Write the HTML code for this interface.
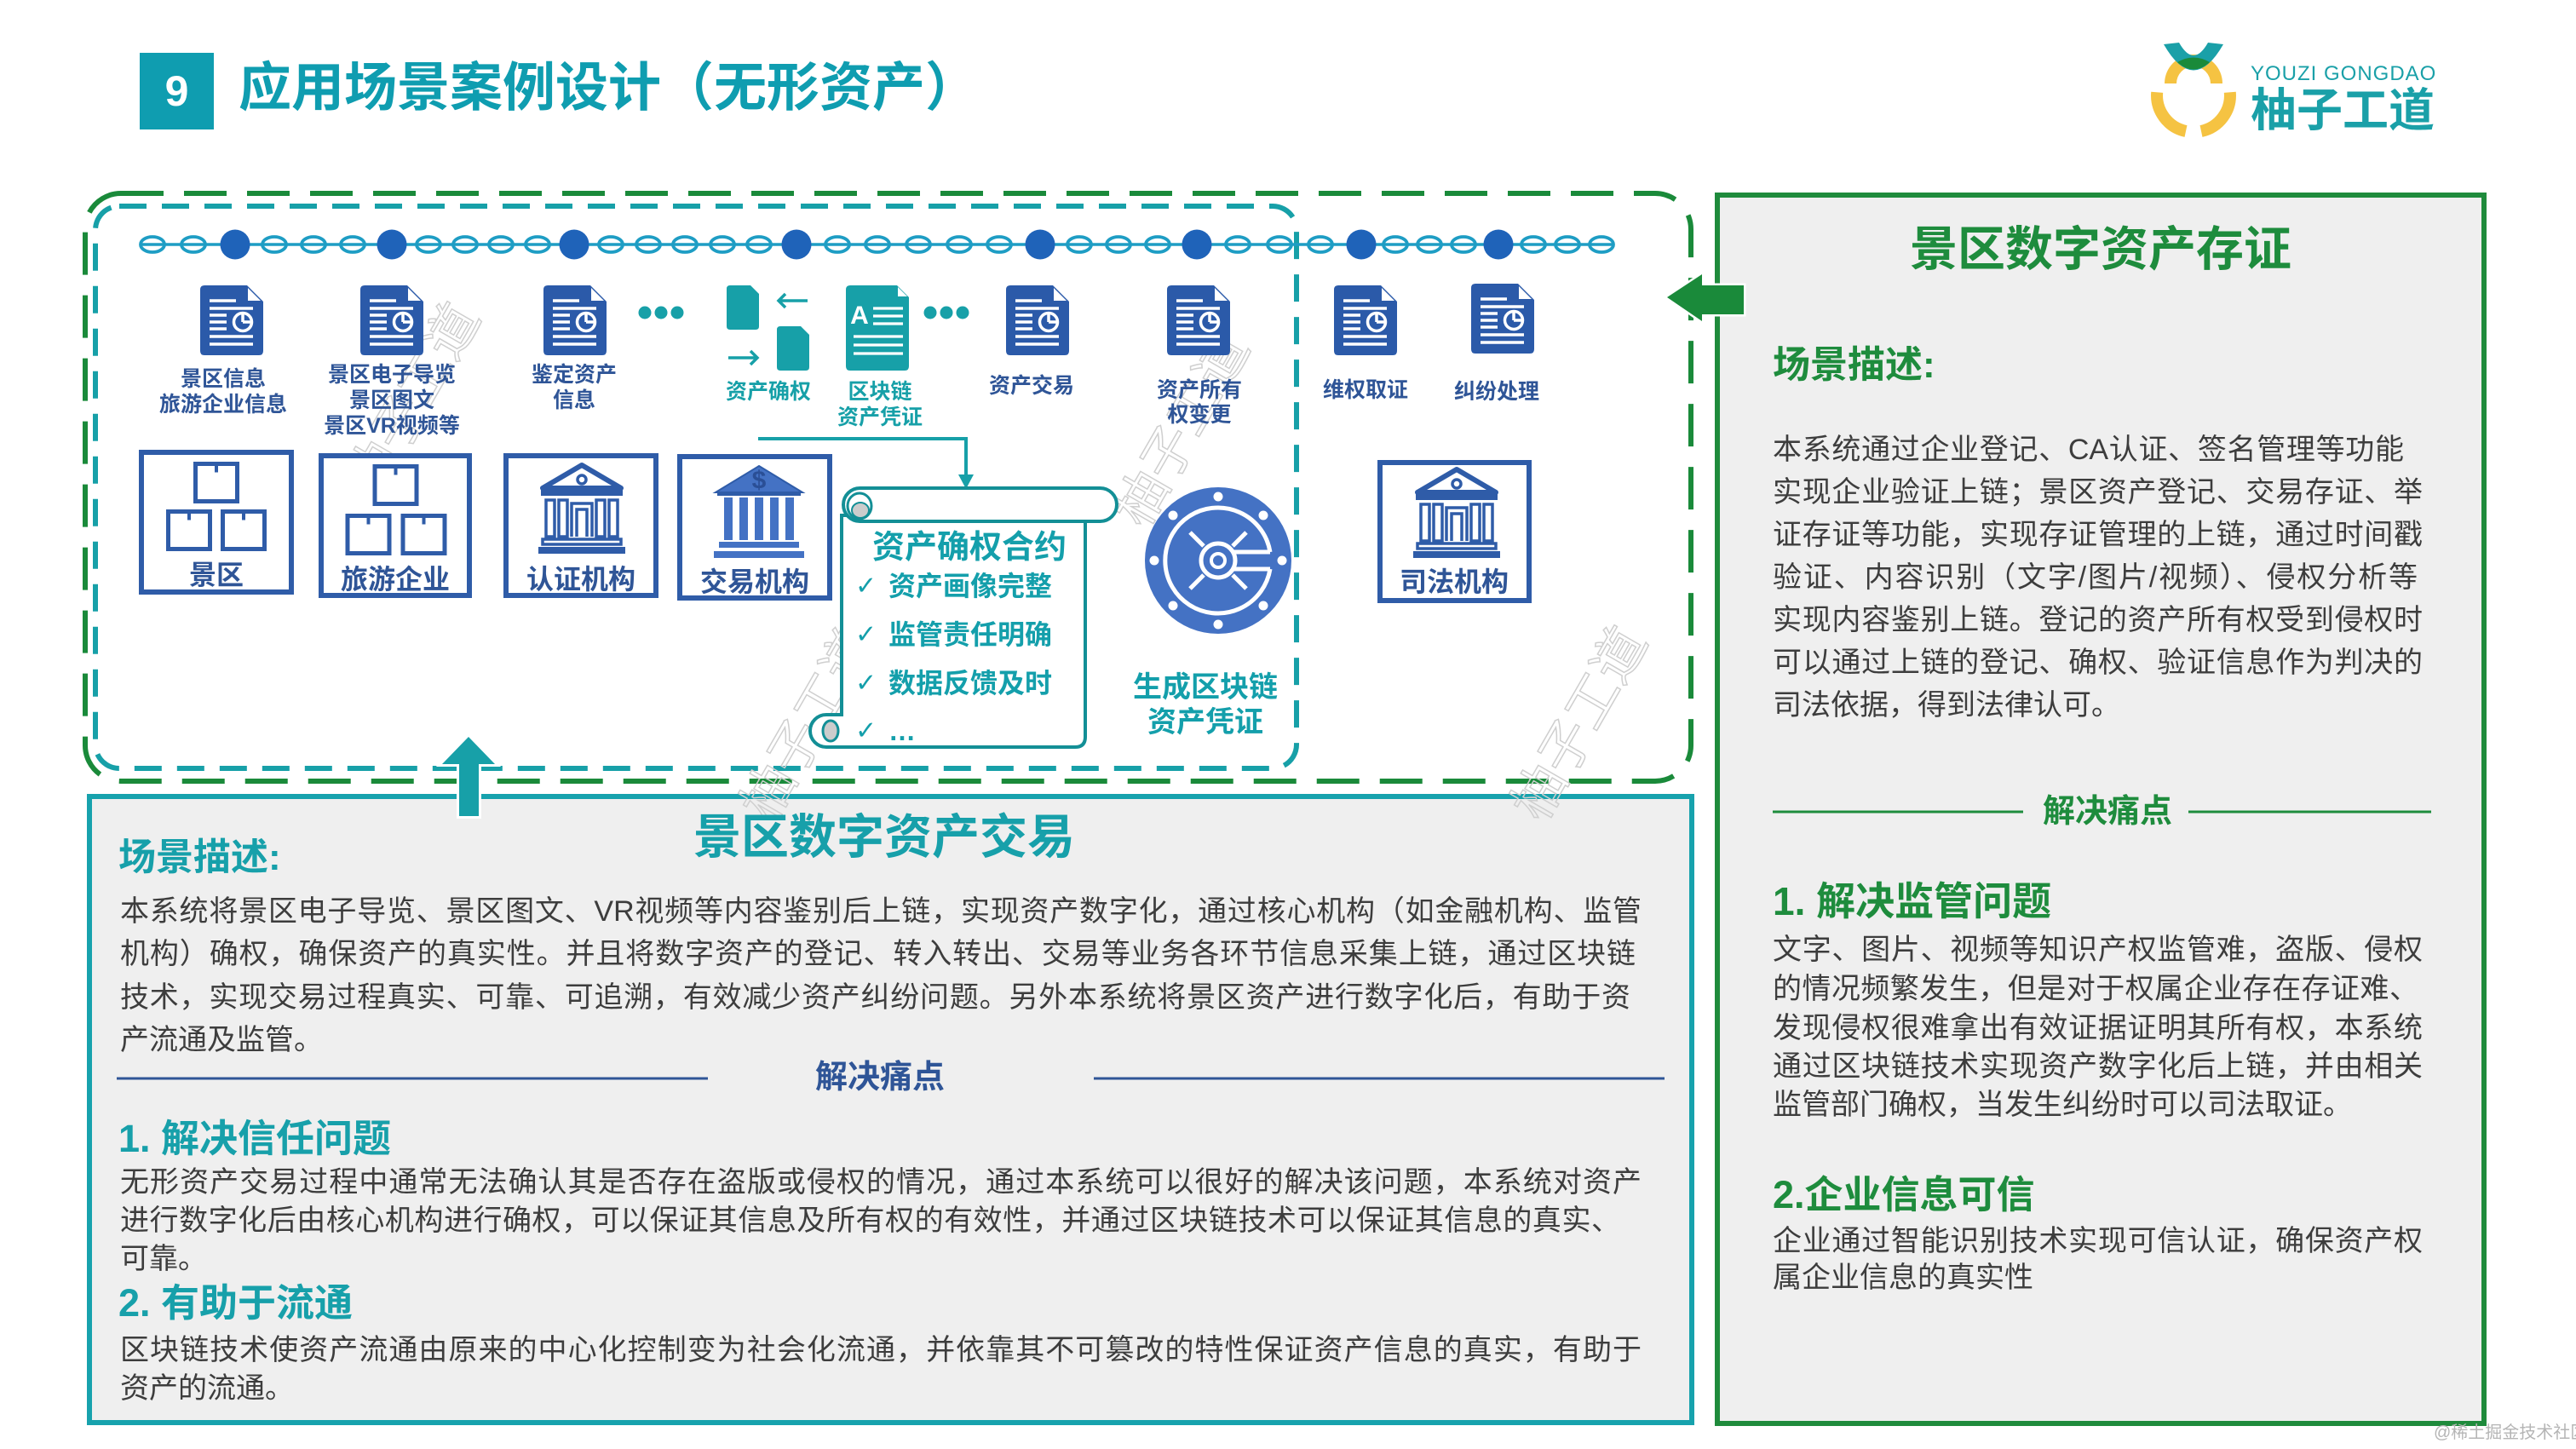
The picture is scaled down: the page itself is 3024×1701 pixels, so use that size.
<!DOCTYPE html>
<html><head><meta charset="utf-8">
<style>
html,body{margin:0;padding:0;background:#fff;}
#c{position:relative;width:3024px;height:1701px;overflow:hidden;background:#fff;font-family:"Liberation Sans","Noto Sans CJK SC",sans-serif;}
.a{position:absolute;white-space:nowrap;}
.p{position:absolute;white-space:nowrap;font-size:34px;height:44px;line-height:44px;color:#3d3d3d;}
.j{text-align:justify;text-align-last:justify;}
.hg{position:absolute;white-space:nowrap;font-weight:bold;color:#1e8c3d;}
.ht{position:absolute;white-space:nowrap;font-weight:bold;color:#17a0aa;}
</style></head><body><div id="c">
<svg class="a" style="left:0;top:0" width="3024" height="1701" viewBox="0 0 3024 1701" font-family="Liberation Sans, Noto Sans CJK SC, sans-serif">
<defs>
 <g id="doc">
  <path d="M5,0 H55 L74,19 V77 Q74,82 69,82 H5 Q0,82 0,77 V5 Q0,0 5,0 Z" fill="#2b5aa9"/>
  <path d="M56,3 V18 H71 Z" fill="#fff"/>
  <g stroke="#fff" stroke-width="3.5" fill="none">
   <path d="M11,18 H42 M11,27 H62 M11,35 H31 M11,43 H31 M11,51 H31 M11,60 H62 M11,69 H62"/>
   <circle cx="50" cy="43" r="10.5"/>
   <path d="M50,43 V32.5 M50,43 H60.5"/>
  </g>
 </g>
 <g id="bank">
  <path d="M51,4 L97,31 L5,31 Z" fill="none" stroke="#2f5ca8" stroke-width="6" stroke-linejoin="round"/>
  <circle cx="51" cy="21" r="5" fill="none" stroke="#2f5ca8" stroke-width="3.5"/>
  <rect x="3" y="33" width="96" height="7" fill="#2f5ca8"/>
  <g fill="none" stroke="#2f5ca8" stroke-width="3.5">
   <rect x="9" y="45" width="10" height="43"/>
   <rect x="24" y="45" width="10" height="43"/>
   <rect x="68" y="45" width="10" height="43"/>
   <rect x="83" y="45" width="10" height="43"/>
   <path d="M39,88 V49 H63 V88 M45,88 V56 H57 V88"/>
   <rect x="5" y="91" width="92" height="6"/>
  </g>
  <rect x="0" y="100" width="102" height="8" fill="#2f5ca8"/>
 </g>
 <g id="sq">
  <rect x="0" y="0" width="49" height="44" fill="none" stroke="#2f5ca8" stroke-width="5"/>
  <path d="M24.5,0 V10" stroke="#2f5ca8" stroke-width="4"/>
 </g>
</defs>

<!-- header -->
<rect x="164" y="62" width="87" height="90" fill="#0f9db0"/>
<text x="207.5" y="107" font-size="50" font-weight="bold" fill="#fff" text-anchor="middle" dominant-baseline="central">9</text>

<!-- logo icon -->
<path d="M2532.2,108.3 A43,43 0 0 0 2566,154" fill="none" stroke="#f5c342" stroke-width="14"/>
<path d="M2617.8,108.3 A43,43 0 0 1 2584,154" fill="none" stroke="#f5c342" stroke-width="14"/>
<path d="M2541,98 A34,34 0 0 1 2609,98 L2595,98 A20,20 0 0 0 2555,98 Z" fill="#f5c342"/>
<path d="M2540,52 L2558,50 Q2575,80 2592,50 L2610,52 Q2575,113 2540,52 Z" fill="#1aa0a8"/>
<path d="M2556,73 Q2575,62 2594,73 Q2575,90 2556,73 Z" fill="#1a8a3a"/>

<!-- right panel -->
<rect x="2016" y="229" width="900" height="1442" fill="#efefef" stroke="#1f8b3c" stroke-width="6"/>

<!-- bottom panel -->
<rect x="105" y="935" width="1881" height="735" fill="#efefef" stroke="#17a2ad" stroke-width="6"/>

<!-- dashed frames -->
<rect x="100" y="227" width="1885" height="690" rx="42" fill="none" stroke="#1a8a3a" stroke-width="6" stroke-dasharray="50 24"/>
<rect x="112" y="242" width="1410" height="660" rx="28" fill="none" stroke="#17a0a8" stroke-width="6" stroke-dasharray="32 18"/>

<!-- watermarks -->
<g font-size="62" fill="none" stroke="#cfcfcf" stroke-width="1.5" text-anchor="middle" dominant-baseline="central">
 <text transform="translate(485,470) rotate(-60)">柚子工道</text>
 <text transform="translate(1388,505) rotate(-60)">柚子工道</text>
 <text transform="translate(950,850) rotate(-60)">柚子工道</text>
 <text transform="translate(1855,850) rotate(-60)">柚子工道</text>
</g>

<!-- chain -->
<path d="M165,287 H1895" stroke="#1e9dc4" stroke-width="3.5"/>
<g fill="none" stroke="#1e9dc4" stroke-width="3.8">
 <ellipse cx="179" cy="287" rx="14" ry="9"/><ellipse cx="227" cy="287" rx="14" ry="9"/>
 <ellipse cx="322" cy="287" rx="14" ry="9"/><ellipse cx="368" cy="287" rx="14" ry="9"/><ellipse cx="414" cy="287" rx="14" ry="9"/>
 <ellipse cx="503" cy="287" rx="14" ry="9"/><ellipse cx="546" cy="287" rx="14" ry="9"/><ellipse cx="588" cy="287" rx="14" ry="9"/><ellipse cx="631" cy="287" rx="14" ry="9"/>
 <ellipse cx="717" cy="287" rx="14" ry="9"/><ellipse cx="761" cy="287" rx="14" ry="9"/><ellipse cx="804" cy="287" rx="14" ry="9"/><ellipse cx="848" cy="287" rx="14" ry="9"/><ellipse cx="891" cy="287" rx="14" ry="9"/>
 <ellipse cx="983" cy="287" rx="14" ry="9"/><ellipse cx="1030" cy="287" rx="14" ry="9"/><ellipse cx="1078" cy="287" rx="14" ry="9"/><ellipse cx="1126" cy="287" rx="14" ry="9"/><ellipse cx="1173" cy="287" rx="14" ry="9"/>
 <ellipse cx="1267" cy="287" rx="14" ry="9"/><ellipse cx="1313" cy="287" rx="14" ry="9"/><ellipse cx="1359" cy="287" rx="14" ry="9"/>
 <ellipse cx="1453" cy="287" rx="14" ry="9"/><ellipse cx="1502" cy="287" rx="14" ry="9"/><ellipse cx="1550" cy="287" rx="14" ry="9"/>
 <ellipse cx="1638" cy="287" rx="14" ry="9"/><ellipse cx="1678" cy="287" rx="14" ry="9"/><ellipse cx="1718" cy="287" rx="14" ry="9"/>
 <ellipse cx="1800" cy="287" rx="14" ry="9"/><ellipse cx="1840" cy="287" rx="14" ry="9"/><ellipse cx="1880" cy="287" rx="14" ry="9"/>
</g>
<g fill="#1f63b9">
 <circle cx="276" cy="287" r="17.5"/><circle cx="460" cy="287" r="17.5"/><circle cx="674" cy="287" r="17.5"/><circle cx="935" cy="287" r="17.5"/>
 <circle cx="1221" cy="287" r="17.5"/><circle cx="1405" cy="287" r="17.5"/><circle cx="1598" cy="287" r="17.5"/><circle cx="1759" cy="287" r="17.5"/>
</g>

<!-- doc icons -->
<use href="#doc" x="235" y="335"/>
<use href="#doc" x="423" y="335"/>
<use href="#doc" x="638" y="335"/>
<use href="#doc" x="1181" y="335"/>
<use href="#doc" x="1370" y="335"/>
<use href="#doc" x="1566" y="335"/>
<use href="#doc" x="1727" y="333"/>

<!-- dots -->
<g fill="#17a0a8">
 <circle cx="757" cy="367" r="7.5"/><circle cx="776" cy="367" r="7.5"/><circle cx="795" cy="367" r="7.5"/>
 <circle cx="1092" cy="367" r="7.5"/><circle cx="1111" cy="367" r="7.5"/><circle cx="1130" cy="367" r="7.5"/>
</g>

<!-- swap icon -->
<path d="M857,335 H881 L891,345 V383 Q891,387 887,387 H857 Q853,387 853,383 V339 Q853,335 857,335 Z" fill="#17a0a8"/>
<path d="M916,383 H940 L950,393 V431 Q950,435 946,435 H916 Q912,435 912,431 V387 Q912,383 916,383 Z" fill="#17a0a8"/>
<g stroke="#17a0a8" stroke-width="3.5" fill="none">
 <path d="M948,353 H914 M922,345 L914,353 L922,361"/>
 <path d="M855,420 H889 M881,412 L889,420 L881,428"/>
</g>

<!-- cert doc -->
<path d="M998,335 H1053 L1067,349 V430 Q1067,435 1062,435 H998 Q993,435 993,430 V340 Q993,335 998,335 Z" fill="#17a0a8"/>
<path d="M1054,337 L1065,348 H1054 Z" fill="#fff"/>
<text x="1009" y="380" font-size="30" font-weight="bold" fill="#fff" text-anchor="middle">A</text>
<g stroke="#fff" stroke-width="3.2">
 <path d="M1025,362 H1060 M1025,371 H1060 M1025,380 H1060 M1002,395 H1060 M1002,405 H1060 M1002,415 H1060"/>
</g>

<!-- connector -->
<path d="M890,515 H1134 V560" fill="none" stroke="#17a0a8" stroke-width="4"/>
<polygon points="1125,557 1143,557 1134,574" fill="#17a0a8"/>

<!-- diagram labels -->
<g font-size="25" font-weight="bold" fill="#2f5597" text-anchor="middle" dominant-baseline="central">
 <text x="262" y="445">景区信息</text><text x="262" y="475">旅游企业信息</text>
 <text x="460" y="440">景区电子导览</text><text x="460" y="470">景区图文</text><text x="460" y="500">景区VR视频等</text>
 <text x="674" y="440">鉴定资产</text><text x="674" y="470">信息</text>
 <text x="1211" y="453">资产交易</text>
 <text x="1408" y="458">资产所有</text><text x="1408" y="487">权变更</text>
 <text x="1603" y="458">维权取证</text>
 <text x="1757" y="460">纠纷处理</text>
</g>
<g font-size="25" font-weight="bold" fill="#17a0a8" text-anchor="middle" dominant-baseline="central">
 <text x="902" y="460">资产确权</text>
 <text x="1033" y="460">区块链</text><text x="1033" y="490">资产凭证</text>
</g>

<!-- boxes -->
<g fill="#fff" stroke="#2f5ca8" stroke-width="6">
 <rect x="166" y="531" width="176" height="164"/>
 <rect x="377" y="535" width="174" height="164"/>
 <rect x="594" y="535" width="176" height="164"/>
 <rect x="798" y="536" width="176" height="166"/>
 <rect x="1620" y="543" width="175" height="162"/>
</g>
<use href="#sq" x="229.5" y="544.5"/><use href="#sq" x="197.5" y="600.5"/><use href="#sq" x="261.5" y="600.5"/>
<use href="#sq" x="440" y="547.5"/><use href="#sq" x="408" y="605.5"/><use href="#sq" x="473" y="605.5"/>
<use href="#bank" x="632" y="542"/>
<use href="#bank" x="1659" y="547"/>
<g transform="translate(836,547)">
 <path d="M55,0 L106,31 L4,31 Z" fill="#4472c4" stroke="#2f5ca8" stroke-width="2"/>
 <text x="55" y="17" font-size="30" font-weight="bold" fill="#2a4f96" text-anchor="middle" dominant-baseline="central">$</text>
 <rect x="6" y="31" width="98" height="4" fill="#2f5ca8"/>
 <g fill="#4472c4">
  <rect x="14" y="37" width="10" height="50"/><rect x="32" y="37" width="10" height="50"/><rect x="50" y="37" width="10" height="50"/><rect x="68" y="37" width="10" height="50"/><rect x="86" y="37" width="10" height="50"/>
  <rect x="8" y="89" width="94" height="7"/><rect x="2" y="100" width="106" height="8"/>
 </g>
</g>
<g font-size="32" font-weight="bold" fill="#2f5597" text-anchor="middle" dominant-baseline="central">
 <text x="254" y="675">景区</text>
 <text x="464" y="680">旅游企业</text>
 <text x="682" y="680">认证机构</text>
 <text x="886" y="683">交易机构</text>
 <text x="1707" y="683">司法机构</text>
</g>

<!-- scroll -->
<g stroke="#138f96" stroke-width="4">
 <path d="M988,605 H1274 V865 Q1274,877 1262,877 H970 A19,19 0 0 1 970,839 H988 Z" fill="#fff"/>
 <ellipse cx="975" cy="858" rx="9" ry="12" fill="#cccccc" stroke-width="3"/>
 <rect x="990" y="573" width="321" height="39" rx="19.5" fill="#fff"/>
 <ellipse cx="1009" cy="594" rx="14" ry="15" fill="#fff" stroke-width="3"/>
 <ellipse cx="1010" cy="599" rx="10" ry="9" fill="#cccccc" stroke-width="2"/>
</g>
<text x="1138" y="643" font-size="38" font-weight="bold" fill="#149fab" text-anchor="middle" dominant-baseline="central">资产确权合约</text>
<g font-size="30" fill="#149fab" dominant-baseline="central" font-family="DejaVu Sans, sans-serif">
 <text x="1004" y="688">✓</text><text x="1004" y="745">✓</text><text x="1004" y="802">✓</text><text x="1004" y="858">✓</text>
</g>
<g font-size="32" font-weight="bold" fill="#149fab" dominant-baseline="central">
 <text x="1043" y="688">资产画像完整</text>
 <text x="1043" y="745">监管责任明确</text>
 <text x="1043" y="802">数据反馈及时</text>
 <text x="1043" y="858">…</text>
</g>

<!-- safe -->
<circle cx="1430" cy="658" r="86" fill="#4472c4"/>
<g fill="#fff">
 <circle cx="1505" cy="658" r="5.5"/><circle cx="1483" cy="711" r="5.5"/><circle cx="1430" cy="733" r="5.5"/><circle cx="1377" cy="711" r="5.5"/>
 <circle cx="1355" cy="658" r="5.5"/><circle cx="1377" cy="605" r="5.5"/><circle cx="1430" cy="583" r="5.5"/><circle cx="1483" cy="605" r="5.5"/>
</g>
<g fill="none" stroke="#fff" stroke-width="5">
 <path d="M1491,648 A62,62 0 1 0 1491,668"/>
 <path d="M1448,648 H1491 M1448,668 H1491"/>
 <circle cx="1430" cy="658" r="20"/>
 <circle cx="1430" cy="658" r="8" stroke-width="4"/>
 <path d="M1413,641 L1397,625 M1447,641 L1463,625 M1413,675 L1397,691 M1447,675 L1463,691"/>
</g>
<g font-size="34" font-weight="bold" fill="#149fab" text-anchor="middle" dominant-baseline="central">
 <text x="1415" y="807">生成区块链</text>
 <text x="1415" y="848">资产凭证</text>
</g>

<!-- green arrow -->
<polygon points="1957,349 1998,322 1998,335 2047,335 2047,369 1998,369 1998,377" fill="#1a8a3a" stroke="#fff" stroke-width="5" paint-order="stroke" stroke-linejoin="miter"/>

<!-- teal up arrow -->
<polygon points="550,865 581,897 562,897 562,958 539,958 539,897 519,897" fill="#17a0a8" stroke="#fff" stroke-width="6" paint-order="stroke"/>

<!-- divider lines -->
<path d="M2081,953 H2375 M2569,953 H2854" stroke="#1e8c3d" stroke-width="3"/>
<path d="M137,1266 H831 M1284,1266 H1954" stroke="#2f5597" stroke-width="3"/>
</svg>

<!-- header texts -->
<div class="a" style="left:280px;top:63px;height:82px;line-height:82px;font-size:62px;font-weight:bold;color:#0f9db0;">应用场景案例设计（无形资产）</div>
<div class="a" style="left:2642px;top:73px;height:28px;line-height:28px;font-size:24px;letter-spacing:1px;color:#1aa0a8;">YOUZI GONGDAO</div>
<div class="a" style="left:2642px;top:98px;height:64px;line-height:64px;font-size:54px;font-weight:bold;color:#1aa0a8;">柚子工道</div>

<!-- right panel text -->
<div class="hg" style="left:2016px;width:900px;text-align:center;top:259px;height:68px;line-height:68px;font-size:56px;">景区数字资产存证</div>
<div class="hg" style="left:2081px;top:402px;height:54px;line-height:54px;font-size:44px;">场景描述:</div>
<div class="p j" style="left:2081px;top:506px;width:741px;">本系统通过企业登记、CA认证、签名管理等功能</div>
<div class="p j" style="left:2081px;top:556px;width:763px;">实现企业验证上链；景区资产登记、交易存证、举</div>
<div class="p j" style="left:2081px;top:606px;width:763px;">证存证等功能，实现存证管理的上链，通过时间戳</div>
<div class="p j" style="left:2081px;top:656px;width:757px;">验证、内容识别（文字/图片/视频）、侵权分析等</div>
<div class="p j" style="left:2081px;top:706px;width:763px;">实现内容鉴别上链。登记的资产所有权受到侵权时</div>
<div class="p j" style="left:2081px;top:756px;width:763px;">可以通过上链的登记、确权、验证信息作为判决的</div>
<div class="p" style="left:2081px;top:806px;">司法依据，得到法律认可。</div>

<div class="hg" style="left:2374px;width:200px;text-align:center;top:930px;height:46px;line-height:46px;font-size:38px;">解决痛点</div>
<div class="hg" style="left:2081px;top:1030px;height:56px;line-height:56px;font-size:46px;">1. 解决监管问题</div>
<div class="p j" style="left:2081px;top:1093px;width:763px;">文字、图片、视频等知识产权监管难，盗版、侵权</div>
<div class="p j" style="left:2081px;top:1139px;width:758px;">的情况频繁发生，但是对于权属企业存在存证难、</div>
<div class="p j" style="left:2081px;top:1185px;width:763px;">发现侵权很难拿出有效证据证明其所有权，本系统</div>
<div class="p j" style="left:2081px;top:1230px;width:763px;">通过区块链技术实现资产数字化后上链，并由相关</div>
<div class="p" style="left:2081px;top:1275px;">监管部门确权，当发生纠纷时可以司法取证。</div>
<div class="hg" style="left:2081px;top:1375px;height:56px;line-height:56px;font-size:45px;">2.企业信息可信</div>
<div class="p j" style="left:2081px;top:1435px;width:763px;">企业通过智能识别技术实现可信认证，确保资产权</div>
<div class="p" style="left:2081px;top:1478px;">属企业信息的真实性</div>

<!-- bottom panel text -->
<div class="ht" style="left:738px;width:600px;text-align:center;top:949px;height:68px;line-height:68px;font-size:56px;">景区数字资产交易</div>
<div class="ht" style="left:139px;top:980px;height:54px;line-height:54px;font-size:44px;">场景描述:</div>
<div class="p j" style="left:141px;top:1048px;width:1786px;">本系统将景区电子导览、景区图文、VR视频等内容鉴别后上链，实现资产数字化，通过核心机构（如金融机构、监管</div>
<div class="p j" style="left:141px;top:1098px;width:1779px;">机构）确权，确保资产的真实性。并且将数字资产的登记、转入转出、交易等业务各环节信息采集上链，通过区块链</div>
<div class="p j" style="left:141px;top:1149px;width:1773px;">技术，实现交易过程真实、可靠、可追溯，有效减少资产纠纷问题。另外本系统将景区资产进行数字化后，有助于资</div>
<div class="p" style="left:141px;top:1199px;">产流通及监管。</div>
<div class="a" style="left:933px;width:200px;text-align:center;top:1242px;height:46px;line-height:46px;font-size:38px;font-weight:bold;color:#2f5597;">解决痛点</div>
<div class="ht" style="left:139px;top:1309px;height:56px;line-height:56px;font-size:45px;">1. 解决信任问题</div>
<div class="p j" style="left:141px;top:1366px;width:1786px;">无形资产交易过程中通常无法确认其是否存在盗版或侵权的情况，通过本系统可以很好的解决该问题，本系统对资产</div>
<div class="p j" style="left:141px;top:1411px;width:1761px;">进行数字化后由核心机构进行确权，可以保证其信息及所有权的有效性，并通过区块链技术可以保证其信息的真实、</div>
<div class="p" style="left:141px;top:1456px;">可靠。</div>
<div class="ht" style="left:139px;top:1502px;height:56px;line-height:56px;font-size:45px;">2. 有助于流通</div>
<div class="p j" style="left:141px;top:1563px;width:1786px;">区块链技术使资产流通由原来的中心化控制变为社会化流通，并依靠其不可篡改的特性保证资产信息的真实，有助于</div>
<div class="p" style="left:141px;top:1608px;">资产的流通。</div>

<div class="a" style="left:2857px;top:1670px;height:24px;line-height:24px;font-size:20px;color:#b5b5b5;">@稀土掘金技术社区</div>
</div></body></html>
